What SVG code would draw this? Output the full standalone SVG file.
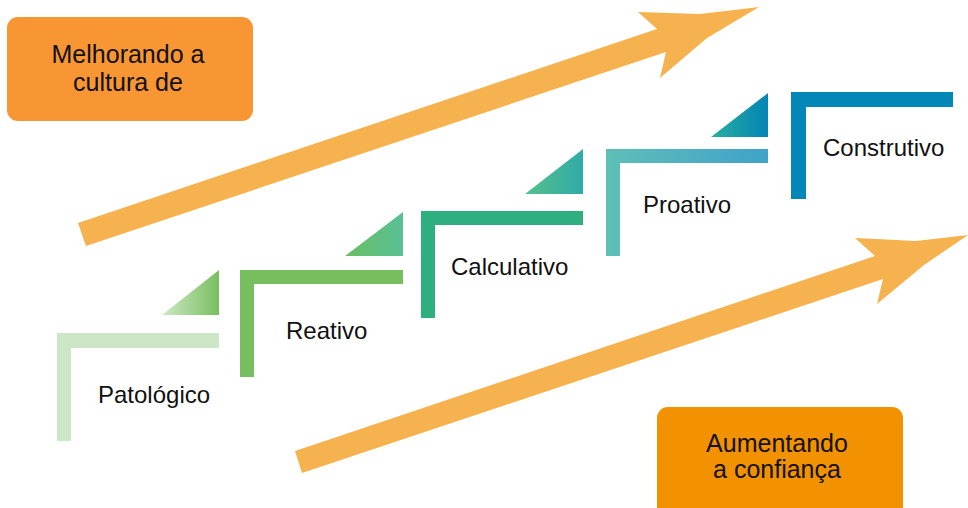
<svg xmlns="http://www.w3.org/2000/svg" width="968" height="508" viewBox="0 0 968 508">
  <defs>
    <style>
      .lbl { font-family: "Liberation Sans", Arial, sans-serif; font-size: 24px; fill: #111; }
      .box-lbl { font-family: "Liberation Sans", Arial, sans-serif; font-size: 25px; fill: #111; text-anchor: middle; }
      .arrow { fill: #F6B24E; }
    </style>
    <linearGradient id="g-tri1" x1="0" y1="0" x2="1" y2="0">
      <stop offset="0" stop-color="#CFE8C6"/>
      <stop offset="1" stop-color="#78BE5F"/>
    </linearGradient>
    <linearGradient id="g-tri2" x1="0" y1="0" x2="1" y2="0">
      <stop offset="0" stop-color="#6BBE62"/>
      <stop offset="1" stop-color="#58C095"/>
    </linearGradient>
    <linearGradient id="g-tri3" x1="0" y1="0" x2="1" y2="0">
      <stop offset="0" stop-color="#56C08C"/>
      <stop offset="1" stop-color="#30ABA7"/>
    </linearGradient>
    <linearGradient id="g-tri4" x1="0" y1="0" x2="1" y2="0">
      <stop offset="0" stop-color="#2BAF9F"/>
      <stop offset="1" stop-color="#0384B5"/>
    </linearGradient>
    <linearGradient id="g-step4" x1="606" y1="0" x2="768" y2="0" gradientUnits="userSpaceOnUse">
      <stop offset="0" stop-color="#5EBFB7"/>
      <stop offset="1" stop-color="#40A2C9"/>
    </linearGradient>
  </defs>

  <!-- big arrows -->
  <g id="arrow-top">
    <polygon class="arrow" points="78,223 657,29 638,12 700,14 759,7 707,38 660,78 666,52 86,246"/>
  </g>
  <g id="arrow-bottom">
    <polygon class="arrow" points="295,451 875,256 855,238 916,241 968,235 924,265 877,304 883,279 302,473"/>
  </g>

  <!-- labelled boxes -->
  <g id="box-cultura">
    <rect x="7" y="17" width="246" height="104" rx="11" fill="#F79633"/>
    <text class="box-lbl" x="128" y="63">Melhorando a</text>
    <text class="box-lbl" x="128" y="91">cultura de</text>
  </g>
  <g id="box-confianca">
    <rect x="657" y="407" width="246" height="112" rx="11" fill="#F29200"/>
    <text class="box-lbl" x="777" y="452">Aumentando</text>
    <text class="box-lbl" x="777" y="478">a confiança</text>
  </g>

  <!-- stairs: connector triangles -->
  <g id="connectors">
    <polygon points="162,315 219,315 219,270" fill="url(#g-tri1)"/>
    <polygon points="345,256 403,256 403,212" fill="url(#g-tri2)"/>
    <polygon points="525,194 583,194 583,149" fill="url(#g-tri3)"/>
    <polygon points="711,137 768,137 768,93" fill="url(#g-tri4)"/>
  </g>

  <!-- stairs: steps -->
  <g id="step-patologico">
    <path d="M57,333 H219 V348 H71 V441 H57 Z" fill="#CDE6C6"/>
    <text class="lbl" x="98" y="403">Patológico</text>
  </g>
  <g id="step-reativo">
    <path d="M240,270 H403 V284 H254 V377 H240 Z" fill="#77BF5E"/>
    <text class="lbl" x="286" y="339">Reativo</text>
  </g>
  <g id="step-calculativo">
    <path d="M421,211 H583 V225 H435 V318 H421 Z" fill="#2DAF7F"/>
    <text class="lbl" x="451" y="275">Calculativo</text>
  </g>
  <g id="step-proativo">
    <path d="M606,149 H768 V163 H620 V256 H606 Z" fill="url(#g-step4)"/>
    <text class="lbl" x="643" y="213">Proativo</text>
  </g>
  <g id="step-construtivo">
    <path d="M791,92 H953 V107 H806 V199 H791 Z" fill="#0287B6"/>
    <text class="lbl" x="823" y="156">Construtivo</text>
  </g>
</svg>
